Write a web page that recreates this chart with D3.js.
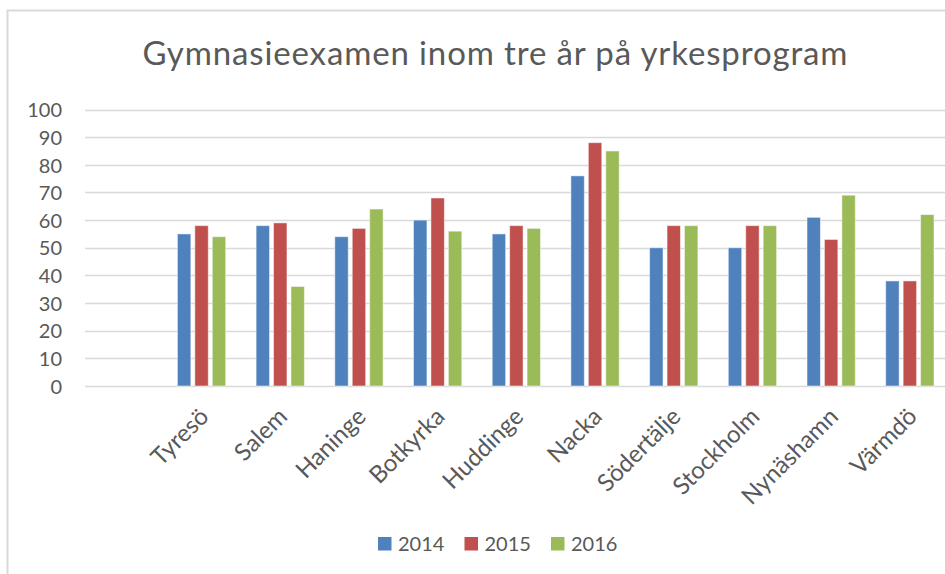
<!DOCTYPE html>
<html><head><meta charset="utf-8">
<script src="https://cdn.jsdelivr.net/npm/d3@7"></script>
<style>html,body{margin:0;padding:0;background:#fff;overflow:hidden}</style>
</head><body>
<svg id="chart" width="945" height="574"></svg>
<script>
const categories = ["", "Tyresö", "Salem", "Haninge", "Botkyrka", "Huddinge", "Nacka", "Södertälje", "Stockholm", "Nynäshamn", "Värmdö"];
const seriesNames = ["2014", "2015", "2016"];
const values2014 = [null, 55, 58, 54, 60, 55, 76, 50, 50, 61, 38];
const values2015 = [null, 58, 59, 57, 68, 58, 88, 58, 58, 53, 38];
const values2016 = [null, 54, 36, 64, 56, 57, 85, 58, 58, 69, 62];
const yTicks = [0, 10, 20, 30, 40, 50, 60, 70, 80, 90, 100];
const colors = ["#4f81bd", "#c0504d", "#9bbb59"];
const title = "Gymnasieexamen inom tre år på yrkesprogram";

const series = [values2014, values2015, values2016];
const svg = d3.select("#chart");
const font = "Lato, 'Open Sans', sans-serif";
const textColor = "#595959";

// frame
svg.append("rect").attr("x", 7.5).attr("y", 10.5).attr("width", 960).attr("height", 600)
  .attr("fill", "#fff").attr("stroke", "#d9d9d9").attr("stroke-width", 2);

const plotLeft = 85, step = 78.7;
const x0 = d3.scaleBand().domain(categories.map((c, i) => i))
  .range([plotLeft, plotLeft + step * categories.length]).paddingInner(0).paddingOuter(0);
const y = d3.scaleLinear().domain([0, 100]).range([386, 109.5]);
const clusterW = 52.3;
const x1 = d3.scaleBand().domain(seriesNames.map((s, i) => i))
  .range([0, clusterW]).padding(0);

// gridlines
svg.append("g").selectAll("line").data(yTicks).join("line")
  .attr("x1", plotLeft).attr("x2", 945)
  .attr("y1", d => Math.round(y(d)) + 0.5).attr("y2", d => Math.round(y(d)) + 0.5)
  .attr("stroke", "#d9d9d9").attr("stroke-width", 1.3);

// y axis labels
const yAxis = d3.axisLeft(y).tickValues(yTicks).tickSize(0).tickPadding(0);
const yg = svg.append("g").attr("transform", "translate(62,0)").call(yAxis);
yg.select(".domain").remove();
yg.selectAll("text").attr("font-family", font).attr("font-size", 20).attr("fill", textColor)
  .attr("dy", "0.36em");

// bars
const groups = svg.append("g").selectAll("g").data(categories.map((c, i) => i)).join("g")
  .attr("transform", i => `translate(${x0(i) + (x0.bandwidth() - clusterW) / 2},0)`);
groups.selectAll("rect").data(i => series.map((s, k) => ({k, v: s[i]})).filter(d => d.v != null))
  .join("rect")
  .attr("x", d => x1(d.k) + 0.5)
  .attr("width", x1.bandwidth() - 4)
  .attr("y", d => y(d.v))
  .attr("height", d => y(0) - y(d.v))
  .attr("fill", d => colors[d.k])
  .attr("stroke", "#fff").attr("stroke-opacity", 0.5).attr("stroke-width", 1);

// x labels
const xg = svg.append("g");
xg.selectAll("text").data(categories.map((c, i) => i).filter(i => categories[i] !== "")).join("text")
  .attr("transform", i => `translate(${x0(i) + x0.bandwidth() / 2 + 7},${418}) rotate(-45)`)
  .attr("text-anchor", "end")
  .attr("font-family", font).attr("font-size", 24).attr("fill", textColor)
  .text(i => categories[i]);

// title
svg.append("text").attr("x", 495).attr("y", 65).attr("text-anchor", "middle")
  .attr("font-family", font).attr("font-size", 33).attr("font-weight", 400).attr("fill", textColor)
  .attr("textLength", 705).attr("lengthAdjust", "spacing")
  .text(title);

// legend
const legendX = [378, 464.5, 551];
const lg = svg.append("g").selectAll("g").data(seriesNames).join("g")
  .attr("transform", (d, i) => `translate(${legendX[i]},537)`);
lg.append("rect").attr("width", 13.5).attr("height", 13.5).attr("fill", (d, i) => colors[i]);
lg.append("text").attr("x", 20).attr("y", 7).attr("dy", "0.36em")
  .attr("font-family", font).attr("font-size", 20).attr("fill", textColor).text(d => d);
</script>
</body></html>
